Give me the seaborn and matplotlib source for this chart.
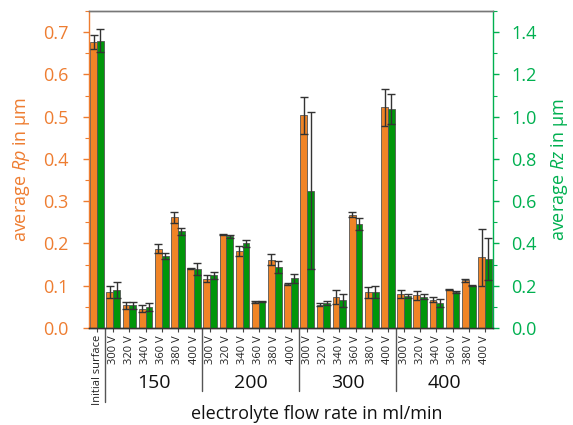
import matplotlib
matplotlib.use("Agg")
import matplotlib.pyplot as plt
import matplotlib.transforms as mtransforms
from matplotlib.ticker import MultipleLocator
import seaborn as sns
import pandas as pd
import numpy as np

# ---------------- data ----------------
flow_groups = ["150", "200", "300", "400"]
voltages = ["300 V", "320 V", "340 V", "360 V", "380 V", "400 V"]
first_label = "Initial surface"

Rp = [0.676,
      0.085, 0.054, 0.046, 0.188, 0.262, 0.141,
      0.117, 0.221, 0.182, 0.062, 0.162, 0.104,
      0.503, 0.055, 0.073, 0.268, 0.085, 0.522,
      0.080, 0.077, 0.067, 0.091, 0.113, 0.167]
Rp_err = [0.017,
          0.015, 0.008, 0.008, 0.010, 0.013, 0.001,
          0.009, 0.002, 0.011, 0.002, 0.014, 0.002,
          0.044, 0.003, 0.017, 0.006, 0.013, 0.043,
          0.010, 0.011, 0.006, 0.002, 0.003, 0.068]
Rz = [1.360,
      0.180, 0.107, 0.100, 0.340, 0.457, 0.280,
      0.249, 0.434, 0.400, 0.125, 0.290, 0.235,
      0.650, 0.118, 0.131, 0.492, 0.170, 1.036,
      0.153, 0.148, 0.118, 0.170, 0.200, 0.326]
Rz_err = [0.054,
          0.040, 0.015, 0.020, 0.013, 0.016, 0.027,
          0.017, 0.008, 0.017, 0.003, 0.028, 0.020,
          0.370, 0.008, 0.030, 0.028, 0.027, 0.070,
          0.010, 0.013, 0.019, 0.003, 0.003, 0.100]

keys = ["init"] + [f"{g}-{v}" for g in flow_groups for v in voltages]
tick_labels = [first_label] + [v for g in flow_groups for v in voltages]

ORANGE = "#F08426"
GREEN = "#00960A"
ORANGE_TXT = "#EE7D31"
GREEN_TXT = "#00B050"

df_rp = pd.DataFrame({"key": keys, "series": "Rp", "value": Rp, "err": Rp_err})
df_rz = pd.DataFrame({"key": keys, "series": "Rz", "value": Rz, "err": Rz_err})

# ---------------- style ----------------
sns.set_theme(style="white")
plt.rcParams["font.family"] = ["Open Sans", "DejaVu Sans"]
plt.rcParams["mathtext.fontset"] = "custom"
plt.rcParams["mathtext.it"] = "Open Sans:italic"
plt.rcParams["mathtext.rm"] = "Open Sans"

fig = plt.figure(figsize=(5.73, 4.25), dpi=100)
ax1 = fig.add_axes([89 / 573, 1 - 328 / 425, (493 - 89) / 573, (328 - 11) / 425])
ax2 = ax1.twinx()

pal = {"Rp": ORANGE, "Rz": GREEN}
common = dict(x="key", y="value", hue="series", hue_order=["Rp", "Rz"], order=keys,
              palette=pal, width=0.84, dodge=True, errorbar=None, legend=False,
              edgecolor="#555555", linewidth=0.6, saturation=1)
sns.barplot(data=df_rp, ax=ax1, **common)
sns.barplot(data=df_rz, ax=ax2, **common)

# error bars placed at the bar centres
for ax, df in ((ax1, df_rp), (ax2, df_rz)):
    xs, ys, es = [], [], []
    for p in ax.patches:
        h = p.get_height()
        if np.isnan(h) or h == 0:
            continue
        cx = p.get_x() + p.get_width() / 2
        idx = int(round(cx))
        xs.append(cx)
        ys.append(h)
        es.append(df["err"].iloc[idx])
    ax.errorbar(xs, ys, yerr=es, fmt="none", ecolor="#333333", elinewidth=1.0,
                capsize=3, capthick=1.0, zorder=5)

ax1.set_xlim(-0.5, len(keys) - 0.5)
ax1.set_ylim(0, 0.75)
ax2.set_ylim(0, 1.5)

ax1.yaxis.set_major_locator(MultipleLocator(0.1))
ax1.yaxis.set_minor_locator(MultipleLocator(0.05))
ax2.yaxis.set_major_locator(MultipleLocator(0.2))
ax2.yaxis.set_minor_locator(MultipleLocator(0.1))
ax1.yaxis.set_major_formatter(matplotlib.ticker.FormatStrFormatter("%.1f"))
ax2.yaxis.set_major_formatter(matplotlib.ticker.FormatStrFormatter("%.1f"))

ax1.tick_params(axis="y", which="major", direction="out", length=4, width=1,
                color=ORANGE_TXT, labelcolor=ORANGE_TXT, labelsize=13, pad=11, left=True)
ax1.tick_params(axis="y", which="minor", direction="out", length=3, width=0.8,
                color=ORANGE_TXT, left=True)
ax2.tick_params(axis="y", which="major", direction="out", length=4, width=1,
                color=GREEN_TXT, labelcolor=GREEN_TXT, labelsize=13, pad=9, right=True)
ax2.tick_params(axis="y", which="minor", direction="out", length=3, width=0.8,
                color=GREEN_TXT, right=True)

ax1.set_xticks(range(len(keys)))
ax1.set_xticklabels(tick_labels, rotation=90, fontsize=8, color="#222222")
ax1.tick_params(axis="x", direction="out", length=3, width=0.8, color="#444444",
                pad=2, bottom=True)
ax2.set_xticks(range(len(keys)))

ax1.set_xlabel("")
ax2.set_xlabel("")
ax1.set_ylabel(r"average $\mathit{Rp}$ in μm", color=ORANGE_TXT, fontsize=13, labelpad=8)
ax2.set_ylabel(r"average $\mathit{Rz}$ in μm", color=GREEN_TXT, fontsize=13, labelpad=9)

for ax in (ax1, ax2):
    ax.spines["top"].set_color("#777777")
    ax.spines["bottom"].set_color("#333333")
    ax.spines["left"].set_color(ORANGE_TXT)
    ax.spines["right"].set_color(GREEN_TXT)
    for s in ax.spines.values():
        s.set_linewidth(1.0)
    ax.grid(False)
ax2.spines["left"].set_visible(False)
ax1.spines["right"].set_visible(False)

# group separators and group labels
trans = mtransforms.blended_transform_factory(ax1.transData, ax1.transAxes)
n_v = len(voltages)
for gi in range(len(flow_groups)):
    xb = 0.5 + gi * n_v
    ybot = -0.233 if gi == 0 else -0.20
    ax1.plot([xb, xb], [0, ybot], transform=trans, color="#555555", lw=1.0, clip_on=False)
    xc = 1 + gi * n_v + (n_v - 1) / 2
    ax1.text(xc, -0.174, flow_groups[gi], transform=trans, ha="center", va="center",
             fontsize=14, color="#111111")

fig.text(317 / 573, 1 - 414 / 425, "electrolyte flow rate in ml/min", ha="center",
         va="center", fontsize=13, color="#111111")

fig.savefig("out.png", dpi=100)
